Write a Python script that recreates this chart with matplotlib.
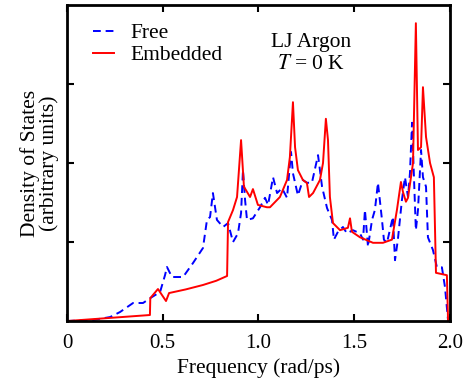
import numpy as np
import matplotlib
matplotlib.use('Agg')
import matplotlib.pyplot as plt

# density of states (frequency in rad/ps, arbitrary units)
free_freq = [0, 0.136, 0.225, 0.277, 0.345, 0.397, 0.444, 0.486, 0.512, 0.522, 0.548, 0.606,
             0.658, 0.710, 0.731, 0.747, 0.762, 0.783, 0.815, 0.841, 0.867, 0.893, 0.909, 0.919,
             0.930, 0.940, 0.971, 1.008, 1.034, 1.050, 1.076, 1.097, 1.123, 1.149, 1.170, 1.180,
             1.206, 1.232, 1.253, 1.279, 1.311, 1.332, 1.358, 1.384, 1.394, 1.415, 1.441, 1.462,
             1.493, 1.530, 1.546, 1.556, 1.572, 1.593, 1.608, 1.624, 1.645, 1.655, 1.671, 1.702,
             1.713, 1.728, 1.749, 1.765, 1.781, 1.791, 1.802, 1.812, 1.822, 1.833, 1.849, 1.859,
             1.875, 1.885, 1.911, 1.932, 1.958, 1.974, 1.990]
free_dos = [0, 0.013, 0.05, 0.114, 0.228, 0.228, 0.304, 0.367, 0.582, 0.684, 0.557, 0.557,
            0.734, 0.924, 1.28, 1.316, 1.62, 1.28, 1.19, 1.24, 1.0, 1.11, 1.367, 1.91,
            1.53, 1.28, 1.30, 1.44, 1.56, 1.47, 1.82, 1.62, 1.68, 1.56, 2.14, 1.87,
            1.59, 1.785, 1.75, 1.75, 2.10, 1.70, 1.43, 1.28, 1.03, 1.13, 1.19, 1.11,
            1.15, 1.11, 1.03, 1.405, 0.94, 1.28, 1.405, 1.75, 1.28, 1.03, 0.99, 1.32,
            0.77, 1.03, 1.53, 1.82, 1.57, 1.87, 2.51, 1.82, 1.15, 1.405, 2.165, 1.82,
            1.70, 1.06, 0.90, 0.68, 0.68, 0.43, 0.01]

emb_freq = [0, 0.433, 0.435, 0.475, 0.517, 0.533, 0.620, 0.710, 0.780, 0.836, 0.841, 0.867,
            0.888, 0.909, 0.924, 0.956, 0.971, 0.997, 1.044, 1.060, 1.112, 1.149, 1.164, 1.180,
            1.191, 1.206, 1.232, 1.253, 1.264, 1.285, 1.321, 1.337, 1.352, 1.363, 1.373, 1.389,
            1.426, 1.467, 1.478, 1.488, 1.530, 1.598, 1.650, 1.697, 1.723, 1.744, 1.755, 1.770,
            1.781, 1.807, 1.822, 1.833, 1.849, 1.859, 1.875, 1.896, 1.916, 1.927, 1.984, 1.990]
emb_dos = [0, 0.076, 0.29, 0.405, 0.253, 0.354, 0.40, 0.456, 0.51, 0.570, 1.253, 1.405,
           1.570, 2.29, 1.70, 1.57, 1.67, 1.47, 1.44, 1.44, 1.57, 1.785, 2.076, 2.77,
           2.20, 1.91, 1.785, 1.747, 1.57, 1.62, 1.785, 2.0, 2.56, 2.29, 1.57, 1.24,
           1.15, 1.18, 1.30, 1.13, 1.06, 0.99, 0.99, 1.03, 1.405, 1.76, 1.63, 1.51,
           1.56, 2.0, 3.77, 2.165, 2.20, 2.96, 2.33, 2.0, 1.82, 0.61, 0.58, 0.01]

plt.rcParams['font.family'] = ['Liberation Serif', 'DejaVu Serif']
plt.rcParams['mathtext.fontset'] = 'stix'

fig = plt.figure(figsize=(4.67, 3.87), dpi=100)
ax = fig.add_axes([0.1435, 0.1705, 0.82, 0.8165])

ax.plot(free_freq, free_dos, color='blue', linestyle=(0, (4, 2.5)), linewidth=1.4, label='Free')
ax.plot(emb_freq, emb_dos, color='red', linewidth=1.4, label='Embedded')

ax.set_xlim(0, 2.0)
ax.set_ylim(0, 4)
ax.set_xticks([0, 0.5, 1.0, 1.5, 2.0])
ax.set_xticklabels(['0', '0.5', '1.0', '1.5', '2.0'])
ax.set_yticks([1, 2, 3])
ax.tick_params(direction='in', top=True, right=True, length=5, width=1.5,
               labelleft=False, labelsize=15, pad=9)
for s in ax.spines.values():
    s.set_linewidth(2)

ax.set_xlabel('Frequency (rad/ps)', fontsize=15.5, labelpad=4)
ax.set_ylabel('Density of States\n(arbitrary units)', fontsize=15.5, labelpad=6, linespacing=0.95)

ax.legend(loc='upper left', bbox_to_anchor=(0.068, 0.943), frameon=False, fontsize=15.5,
          handlelength=0.95, handletextpad=0.8, borderaxespad=0, borderpad=0, labelspacing=0.1)
ax.text(0.637, 0.912, 'LJ Argon\n$T$ = 0 K', transform=ax.transAxes, ha='center', va='top',
        fontsize=15.5, linespacing=1.2)

fig.savefig('out.png', dpi=100)
